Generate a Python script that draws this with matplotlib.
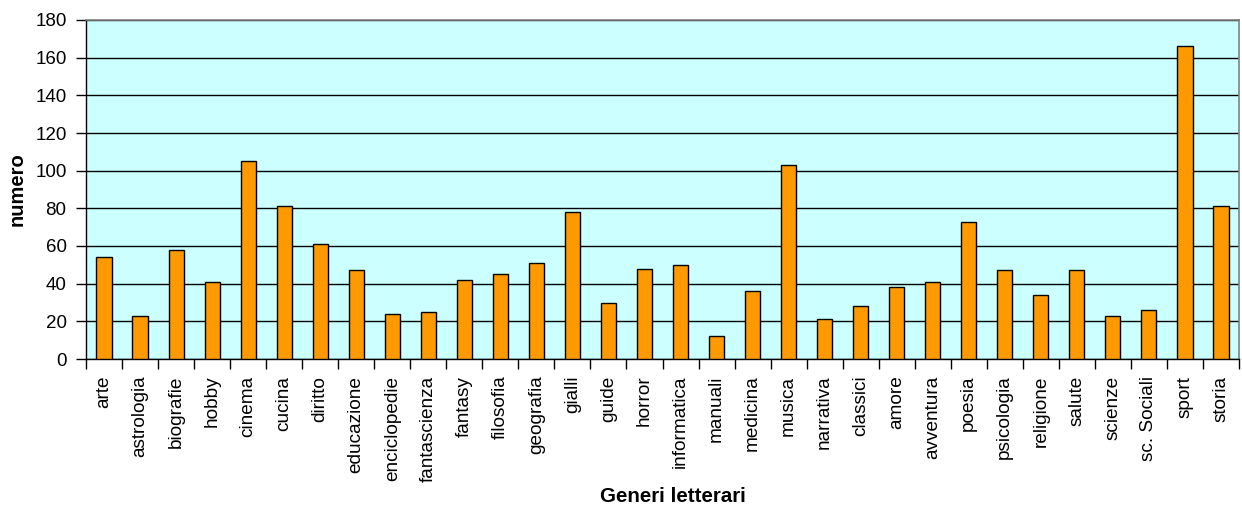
import matplotlib
matplotlib.use("Agg")
import matplotlib.pyplot as plt
import numpy as np

plt.rcParams['font.family'] = ['Liberation Sans', 'DejaVu Sans']

categories = ["arte", "astrologia", "biografie", "hobby", "cinema", "cucina", "diritto",
              "educazione", "enciclopedie", "fantascienza", "fantasy", "filosofia",
              "geografia", "gialli", "guide", "horror", "informatica", "manuali",
              "medicina", "musica", "narrativa", "classici", "amore", "avventura",
              "poesia", "psicologia", "religione", "salute", "scienze", "sc. Sociali",
              "sport", "storia"]
values = [54, 23, 58, 41, 105, 81, 61, 47, 24, 25, 42, 45,
          51, 78, 30, 48, 50, 12, 36, 103, 21, 28, 38, 41,
          73, 47, 34, 47, 23, 26, 166, 81]
y_ticks = [0, 20, 40, 60, 80, 100, 120, 140, 160, 180]

fig = plt.figure(figsize=(12.42, 5.08), dpi=100)
ax = fig.add_axes([86/1242, 1-359/508, (1239-86)/1242, (359-20)/508])
ax.set_facecolor('#CCFFFF')

x = np.arange(len(categories))
ax.bar(x, values, width=0.42, color='#FF9900', edgecolor='black', linewidth=1.0, zorder=3)

ax.set_xlim(-0.5, len(categories) - 0.5)
ax.set_ylim(0, 180)
ax.set_yticks(y_ticks)
ax.set_yticklabels([str(t) for t in y_ticks], fontsize=13.5)
ax.yaxis.grid(True, color='black', linewidth=1.0, zorder=1)
ax.set_axisbelow(True)

# category labels at centers, tick marks at boundaries
ax.set_xticks(x)
ax.set_xticklabels(categories, rotation=90, fontsize=13.7)
ax.tick_params(axis='x', which='major', length=0, pad=12)
ax.set_xticks(np.arange(len(categories) + 1) - 0.5, minor=True)
ax.tick_params(axis='x', which='minor', length=7, width=1, color='black', direction='out')
ax.tick_params(axis='y', length=7, width=1, direction='out', pad=7)

for side in ['top', 'right']:
    ax.spines[side].set_color('#808080')
    ax.spines[side].set_linewidth(1.2)
for side in ['left', 'bottom']:
    ax.spines[side].set_color('black')
    ax.spines[side].set_linewidth(1.0)

ax.set_ylabel('numero', fontsize=14.5, fontweight='bold', labelpad=6)
fig.text(673/1242, 1 - 496/508, 'Generi letterari', fontsize=14.8, fontweight='bold',
         ha='center', va='center')

fig.savefig('out.png', dpi=100)
